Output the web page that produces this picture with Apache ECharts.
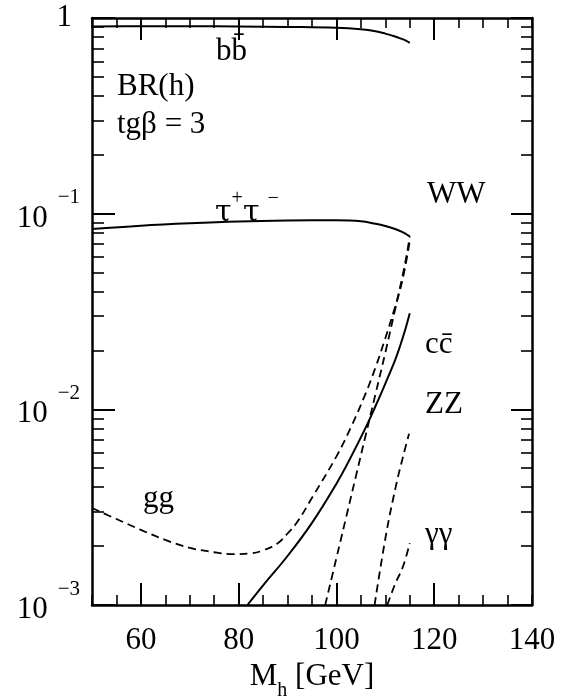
<!DOCTYPE html>
<html>
<head>
<meta charset="utf-8">
<script src="https://cdn.jsdelivr.net/npm/echarts@6/dist/echarts.min.js"></script>
<style>
  html, body { margin: 0; padding: 0; background: #fff; }
  #chart { width: 562px; height: 696px; }
</style>
</head>
<body>
<div id="chart"></div>
<script>
// BR(h), tg(beta) = 3
var bbMass = [50, 60, 70, 80, 90, 100, 105, 108, 110, 112, 113.5, 114.3, 115];
var bbBR = [0.906, 0.908, 0.908, 0.905, 0.9, 0.891, 0.875, 0.855, 0.832, 0.805, 0.78, 0.765, 0.746];

var tauMass = [50, 60, 70, 80, 90, 100, 105, 108, 110, 112, 113.5, 114.3, 115];
var tauBR = [0.0835, 0.0868, 0.0893, 0.0912, 0.0922, 0.0925, 0.0915, 0.0888, 0.0865, 0.0835, 0.0805, 0.0785, 0.0765];

var ccMass = [81.8, 85, 90, 95, 100, 103, 106, 108, 110, 112, 113, 114, 115];
var ccBR = [0.001, 0.00126, 0.00178, 0.00263, 0.00417, 0.00573, 0.00809, 0.0104, 0.01355, 0.01786, 0.021, 0.0252, 0.031];

var ggMass = [50, 55, 60, 65, 70, 75, 79, 82, 85, 88, 90, 92, 95, 100, 103, 106, 108, 110, 112, 113, 114, 115];
var ggBR = [0.00313, 0.00275, 0.00242, 0.00215, 0.00196, 0.00186, 0.00182, 0.00183, 0.0019, 0.00207, 0.00232, 0.00266, 0.00353, 0.00575, 0.00813, 0.0121, 0.0164, 0.0231, 0.0334, 0.0407, 0.0525, 0.0724];

var wwMass = [97.7, 100, 102, 104, 106, 108, 110, 112, 113.5, 114.3, 115];
var wwBR = [0.001, 0.00174, 0.00282, 0.00457, 0.00741, 0.0120, 0.0195, 0.0324, 0.0479, 0.0603, 0.0766];

var zzMass = [107.8, 110.2, 112.3, 113.6, 114.85];
var zzBR = [0.001, 0.00233, 0.0042, 0.0057, 0.0075];

var gamMass = [110.4, 112, 113.6, 115];
var gamBR = [0.001, 0.00128, 0.00157, 0.00207];

var xLabels = [60, 80, 100, 120, 140];
var xMajor = [60, 80, 100, 120];
var yMinor = [];
[0.001, 0.01, 0.1].forEach(function (d) {
  for (var k = 2; k <= 9; k++) yMinor.push(d * k);
});

var FONT = 'Liberation Serif';

function pts(xs, ys) {
  return xs.map(function (x, i) { return [x, ys[i]]; });
}

function line(name, xs, ys, dashed) {
  return {
    name: name,
    type: 'line',
    data: pts(xs, ys),
    showSymbol: false,
    smooth: 0.4,
    silent: true,
    lineStyle: { color: '#000', width: dashed ? 1.8 : 2, type: dashed ? [8, 5] : 'solid' }
  };
}

// text placed by its baseline
function txt(str, x, base) {
  return {
    type: 'text', x: x, y: base - 10.5,
    style: { text: str, fill: '#000', font: '31px "' + FONT + '"', verticalAlign: 'middle', align: 'left' }
  };
}

function xAx(pos, major) {
  return {
    type: 'value', position: pos, min: 50, max: 140, interval: 5,
    axisLine: { show: !major, lineStyle: { color: '#000', width: 2.5 } },
    axisTick: major
      ? { inside: true, length: 22, customValues: xMajor, lineStyle: { color: '#000', width: 2 } }
      : { inside: true, length: 10, lineStyle: { color: '#000', width: 1.6 } },
    axisLabel: { show: false },
    splitLine: { show: false }
  };
}

function yAx(pos, minor) {
  return {
    type: 'log', logBase: 10, position: pos, min: 0.001, max: 1,
    axisLine: { show: !minor, lineStyle: { color: '#000', width: 2.5 } },
    axisTick: minor
      ? { inside: true, length: pos === 'left' ? 12 : 11, customValues: yMinor, lineStyle: { color: '#000', width: 1.6 } }
      : { inside: true, length: pos === 'left' ? 23 : 21, lineStyle: { color: '#000', width: 2 } },
    axisLabel: { show: false },
    splitLine: { show: false },
    minorTick: { show: false }
  };
}

var xBottom = xAx('bottom', false);
xBottom.axisLabel = {
  show: true, customValues: xLabels, margin: 20,
  color: '#000', fontFamily: FONT, fontSize: 31
};
xBottom.name = '{m|M}{sub|h}{m| [GeV]}';
xBottom.nameLocation = 'middle';
xBottom.nameGap = 43;
xBottom.nameTextStyle = {
  color: '#000', fontFamily: FONT,
  rich: {
    m: { fontSize: 31, fontFamily: FONT, color: '#000', verticalAlign: 'top' },
    sub: { fontSize: 20, fontFamily: FONT, color: '#000', verticalAlign: 'top', padding: [20, 0, 0, 0] }
  }
};

var yLeft = yAx('left', false);
yLeft.axisLabel = {
  show: true, margin: 12, color: '#000', fontFamily: FONT,
  formatter: function (v) {
    if (v > 0.5) return '{one|1}';
    return '{base|10}{sup|\u2212' + Math.round(-Math.log10(v)) + '}';
  },
  rich: {
    one: { fontSize: 31, fontFamily: FONT, color: '#000', padding: [0, 8, 0, 0] },
    base: { fontSize: 31, fontFamily: FONT, color: '#000', verticalAlign: 'top', padding: [16, 0, 6, 0] },
    sup: { fontSize: 21, fontFamily: FONT, color: '#000', verticalAlign: 'top', padding: [0, 0, 0, 10] }
  }
};

var chart = echarts.init(document.getElementById('chart'));
chart.setOption({
  animation: false,
  backgroundColor: '#fff',
  grid: { left: 92, right: 30, top: 18, bottom: 91, outerBoundsMode: 'none', containLabel: false },
  xAxis: [xBottom, xAx('bottom', true), xAx('top', false), xAx('top', true)],
  yAxis: [yLeft, yAx('left', true), yAx('right', false), yAx('right', true)],
  series: [
    line('bb', bbMass, bbBR, false),
    line('tautau', tauMass, tauBR, false),
    line('cc', ccMass, ccBR, false),
    line('gg', ggMass, ggBR, true),
    line('WW', wwMass, wwBR, true),
    line('ZZ', zzMass, zzBR, true),
    line('gamgam', gamMass, gamBR, true)
  ],
  graphic: [
    txt('BR(h)', 117, 97),
    txt('tg\u03b2 = 3', 117, 135),
    txt('bb\u0304', 216, 62),
    txt('WW', 427, 205),
    txt('cc\u0304', 425, 355),
    txt('ZZ', 425, 415),
    txt('\u03b3\u03b3', 425, 545),
    txt('gg', 143, 509),
    {
      type: 'text', x: 215, y: 189,
      style: {
        text: '{t|\u03c4}{s|+}{t|\u03c4}{m|\u2212}', fill: '#000', verticalAlign: 'top', align: 'left',
        rich: {
          t: { fontSize: 30, fontFamily: 'DejaVu Serif', verticalAlign: 'top', padding: [9, 0, 0, 0] },
          s: { fontSize: 20, fontFamily: FONT, verticalAlign: 'top' },
          m: { fontSize: 20, fontFamily: FONT, verticalAlign: 'top', padding: [0, 0, 0, 8] }
        }
      }
    }
  ]
});
</script>
</body>
</html>
